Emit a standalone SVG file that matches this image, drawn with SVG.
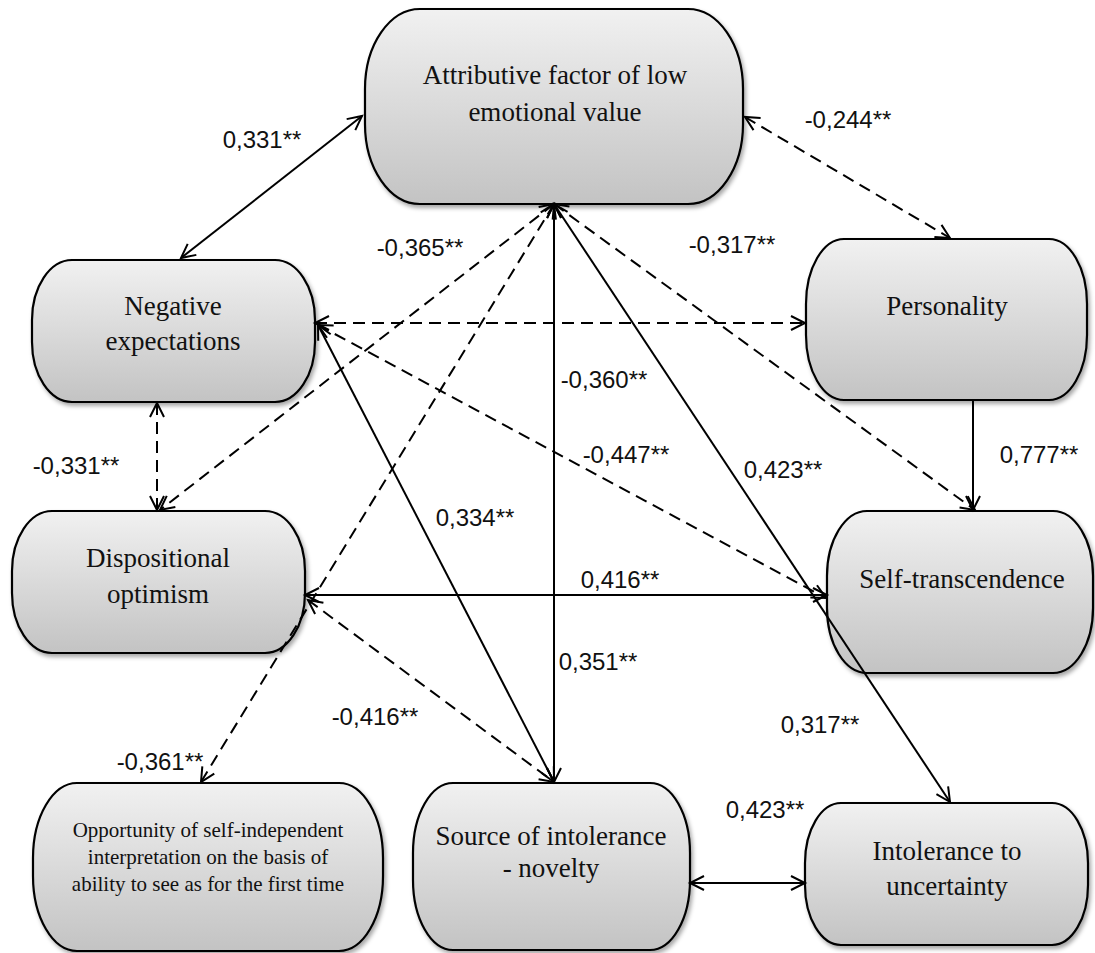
<svg xmlns="http://www.w3.org/2000/svg" width="1095" height="953" viewBox="0 0 1095 953">
<defs>
<linearGradient id="g" x1="0" y1="0" x2="0" y2="1">
<stop offset="0" stop-color="#f1f1f1"/>
<stop offset="1" stop-color="#c3c3c3"/>
</linearGradient>
<filter id="sh" x="-10%" y="-10%" width="130%" height="130%">
<feDropShadow dx="2" dy="3" stdDeviation="2" flood-color="#000" flood-opacity="0.35"/>
</filter>
<marker id="ah" markerUnits="userSpaceOnUse" markerWidth="20" markerHeight="20" viewBox="0 0 20 20" refX="16" refY="10" orient="auto-start-reverse">
<path d="M2,3 L16,10 L2,17" fill="none" stroke="#000" stroke-width="2"/>
</marker>
<style>
.node rect{fill:url(#g);stroke:#000;stroke-width:2.2;filter:url(#sh)}
.node text{font-family:"Liberation Serif","Times New Roman",serif;font-size:27px;fill:#111;text-anchor:middle}
.node text.small{font-size:21px}
.c line{stroke:#000;stroke-width:2;fill:none;marker-end:url(#ah)}
.c line.b{marker-start:url(#ah)}
.c line.d{stroke-dasharray:12 7}
.lab text{font-family:"Liberation Sans",Arial,sans-serif;font-size:24px;fill:#111;text-anchor:middle}
</style>
</defs>
<rect width="1095" height="953" fill="#fff"/>

<g id="n-attr" class="node">
<rect x="365" y="9" width="378" height="195" rx="55" ry="80"/>
<text x="555" y="84">Attributive factor of low</text>
<text x="555" y="121">emotional value</text>
</g>
<g id="n-neg" class="node">
<rect x="32" y="260" width="283" height="142" rx="40" ry="60"/>
<text x="173" y="315">Negative</text>
<text x="173" y="350">expectations</text>
</g>
<g id="n-pers" class="node">
<rect x="806" y="239" width="281" height="161" rx="38" ry="65"/>
<text x="947" y="315">Personality</text>
</g>
<g id="n-disp" class="node">
<rect x="12" y="511" width="293" height="142" rx="40" ry="60"/>
<text x="158" y="567">Dispositional</text>
<text x="158" y="603">optimism</text>
</g>
<g id="n-self" class="node">
<rect x="827" y="511" width="266" height="162" rx="40" ry="65"/>
<text x="962" y="588">Self-transcendence</text>
</g>
<g id="n-opp" class="node">
<rect x="33" y="783" width="350" height="168" rx="44" ry="75"/>
<text class="small" x="208" y="837">Opportunity of self-independent</text>
<text class="small" x="208" y="864">interpretation on the basis of</text>
<text class="small" x="208" y="891">ability to see as for the first time</text>
</g>
<g id="n-src" class="node">
<rect x="413" y="783" width="277" height="167" rx="40" ry="70"/>
<text x="551" y="845">Source of intolerance</text>
<text x="551" y="877">- novelty</text>
</g>
<g id="n-intol" class="node">
<rect x="805" y="803" width="283" height="142" rx="36" ry="60"/>
<text x="947" y="860">Intolerance to</text>
<text x="947" y="895">uncertainty</text>
</g>

<g id="connectors" class="c">
<line class="b" x1="362" y1="116" x2="181" y2="258"/>
<line class="b d" x1="745" y1="117" x2="950" y2="238"/>
<line class="b d" x1="315" y1="323" x2="805" y2="323"/>
<line class="b d" x1="157" y1="403" x2="157" y2="510"/>
<line class="b d" x1="554" y1="204" x2="160" y2="510"/>
<line class="b d" x1="554" y1="204" x2="201" y2="782"/>
<line class="b" x1="554" y1="204" x2="554" y2="782"/>
<line class="b" x1="554" y1="204" x2="950" y2="802"/>
<line class="b d" x1="554" y1="204" x2="975" y2="510"/>
<line class="b d" x1="318" y1="325" x2="826" y2="598"/>
<line class="b" x1="318" y1="325" x2="554" y2="782"/>
<line x1="973" y1="400" x2="973" y2="510"/>
<line class="b" x1="305" y1="595" x2="827" y2="595"/>
<line class="b d" x1="308" y1="600" x2="554" y2="782"/>
<line class="b" x1="690" y1="883" x2="805" y2="883"/>
</g>

<g id="labels" class="lab">
<text x="262" y="148">0,331**</text>
<text x="848" y="128">-0,244**</text>
<text x="420" y="256">-0,365**</text>
<text x="732" y="253">-0,317**</text>
<text x="604" y="388">-0,360**</text>
<text x="76" y="474">-0,331**</text>
<text x="626" y="463">-0,447**</text>
<text x="783" y="478">0,423**</text>
<text x="1039" y="463">0,777**</text>
<text x="475" y="526">0,334**</text>
<text x="620" y="588">0,416**</text>
<text x="598" y="670">0,351**</text>
<text x="375" y="725">-0,416**</text>
<text x="160" y="770">-0,361**</text>
<text x="820" y="733">0,317**</text>
<text x="765" y="818">0,423**</text>
</g>
</svg>
